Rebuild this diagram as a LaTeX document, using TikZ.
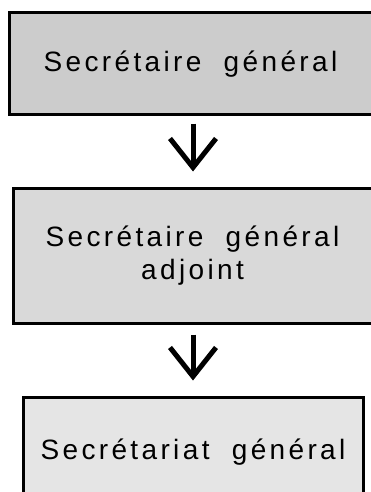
\documentclass[tikz,border=0pt]{standalone}
\usepackage{fontspec}
\setmainfont{Liberation Sans}[LetterSpace=12]
\usetikzlibrary{arrows.meta}

\begin{document}
\begin{tikzpicture}[x=1pt,y=-1pt,
	box/.style={rectangle,draw=black,line width=3pt,inner sep=0pt,align=center,font=\fontsize{28}{32.5}\selectfont},
	flecha/.style={line width=5pt,-{Straight Barb[length=29pt,width=46pt]},shorten >=15pt}]
	\useasboundingbox (0,0) rectangle (370,492);
	\path (190.5,64) node(sg)[box,fill=gray!40,minimum width=363pt,minimum height=102pt]{Secrétaire\ \ général}
	(192.5,255.5) node(sga)[box,fill=gray!30,minimum width=359pt,minimum height=135pt]{Secrétaire\ \ général\\adjoint}
	(193,452) node(sgt)[box,fill=gray!20,minimum width=340pt,minimum height=110pt]{Secrétariat\ \ général};
	\draw[flecha,shorten <=7pt](sg.south -| sgt.north)--(sga.north -| sgt.north);
	\draw[flecha,shorten <=10pt](sga.south -| sgt.north)--(sgt.north);
\end{tikzpicture}
\end{document}
